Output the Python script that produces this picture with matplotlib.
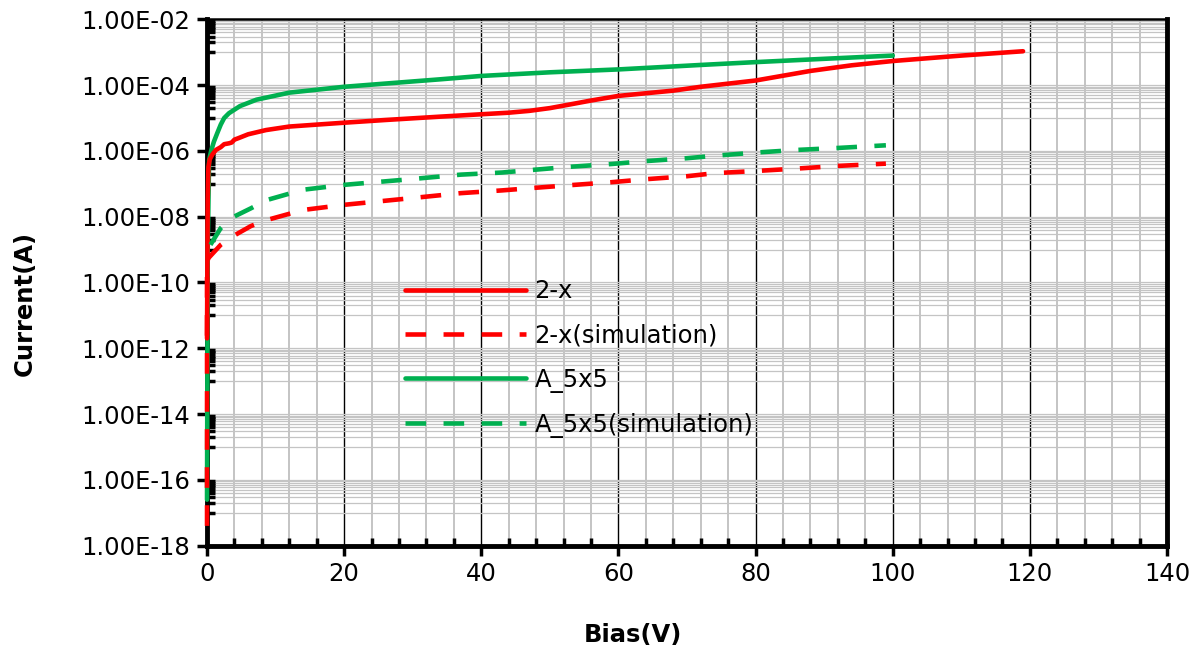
import numpy as np
import matplotlib
matplotlib.use("Agg")
import matplotlib.pyplot as plt
from matplotlib.ticker import FixedLocator, FuncFormatter, MultipleLocator


OUTPUT_FILE = "out.png"

# measured I-V curves
BIAS_2X = [0, 0.05, 0.1, 0.2, 0.4, 0.8, 1.3, 2, 2.5, 3.2, 3.6, 4.0, 4.6, 6, 8.6,
           12, 16, 20, 26, 34, 40, 44, 47, 50, 53, 56, 60, 68, 72, 80, 88, 94,
           100, 110, 119]
CURRENT_2X = [2.0e-12, 3.2e-10, 3.2e-8, 3.2e-7, 5.6e-7, 7.9e-7, 1.07e-6, 1.3e-6,
              1.6e-6, 1.7e-6, 1.8e-6, 2.2e-6, 2.45e-6, 3.2e-6, 4.3e-6, 5.5e-6,
              6.3e-6, 7.2e-6, 8.7e-6, 1.1e-5, 1.3e-5, 1.45e-5, 1.65e-5, 2.0e-5,
              2.6e-5, 3.4e-5, 4.7e-5, 6.8e-5, 8.9e-5, 1.38e-4, 2.7e-4, 4.0e-4,
              5.4e-4, 7.9e-4, 1.07e-3]

BIAS_A5 = [0, 0.1, 0.3, 0.6, 1.0, 1.5, 2.0, 2.5, 3.2, 4.8, 7.2, 12, 20, 34, 40,
           50, 60, 72, 80, 90, 100]
CURRENT_A5 = [2.5e-17, 1.0e-9, 5.2e-7, 1.0e-6, 1.9e-6, 3.5e-6, 6.3e-6, 1.0e-5,
              1.4e-5, 2.3e-5, 3.6e-5, 5.9e-5, 8.9e-5, 1.5e-4, 1.9e-4, 2.45e-4,
              3.0e-4, 4.1e-4, 5.0e-4, 6.3e-4, 7.9e-4]

# simulated I-V curves
BIAS_2X_SIM = [0, 0, 0.2, 2, 3.7, 6.4, 8.7, 14, 20, 30, 37, 43, 48, 53, 59, 64,
               70, 74, 80, 86, 92, 99]
CURRENT_2X_SIM = [4.0e-18, 4.0e-10, 5.5e-10, 1.4e-9, 2.5e-9, 5.2e-9, 7.9e-9,
                  1.6e-8, 2.3e-8, 3.7e-8, 5.2e-8, 6.3e-8, 7.6e-8, 9.1e-8,
                  1.12e-7, 1.38e-7, 1.7e-7, 2.1e-7, 2.45e-7, 2.9e-7, 3.5e-7,
                  4.1e-7]

BIAS_A5_SIM = [0.5, 2, 3.7, 6.4, 8.7, 14, 20, 30, 37, 43, 48, 53, 59, 64, 70,
               74, 80, 86, 92, 99]
CURRENT_A5_SIM = [1.4e-9, 4.5e-9, 9.5e-9, 1.8e-8, 3.2e-8, 6.6e-8, 9.3e-8,
                  1.4e-7, 1.9e-7, 2.2e-7, 2.7e-7, 3.3e-7, 4.0e-7, 4.9e-7,
                  6.0e-7, 7.1e-7, 8.9e-7, 1.07e-6, 1.23e-6, 1.48e-6]

RED = "#FF0000"
GREEN = "#00B050"
DASH = (0, (4.5, 3.8))
FONT_SIZE = 17.5


def make_plot():
    plt.rcParams["font.family"] = "DejaVu Sans"

    fig = plt.figure(figsize=(11.96, 6.46), dpi=100)
    ax = fig.add_axes([0.1731, 0.1553, 0.8027, 0.8148])

    line_kw = dict(linewidth=3.3, clip_on=False, solid_capstyle="round")
    h_a5, = ax.plot(BIAS_A5, CURRENT_A5, color=GREEN, zorder=3, **line_kw)
    h_2x, = ax.plot(BIAS_2X, CURRENT_2X, color=RED, zorder=4, **line_kw)
    h_2x_sim, = ax.plot(BIAS_2X_SIM, CURRENT_2X_SIM, color=RED, linestyle=DASH,
                        zorder=5, **line_kw)
    h_a5_sim, = ax.plot(BIAS_A5_SIM, CURRENT_A5_SIM, color=GREEN, linestyle=DASH,
                        zorder=6, **line_kw)

    ax.set_yscale("log")
    ax.set_xlim(0, 140)
    ax.set_ylim(1e-18, 1e-2)

    # major ticks every two decades, minor ticks split each two-decade band
    majors = [10.0 ** e for e in range(-18, -1, 2)]
    minors = [m * 10.0 ** e for e in range(-18, -3, 2) for m in range(10, 100, 10)]
    ax.yaxis.set_major_locator(FixedLocator(majors))
    ax.yaxis.set_minor_locator(FixedLocator(minors))
    ax.yaxis.set_major_formatter(FuncFormatter(lambda v, _: f"{v:.2E}"))
    ax.yaxis.set_minor_formatter(FuncFormatter(lambda v, _: ""))

    ax.xaxis.set_major_locator(MultipleLocator(20))
    ax.xaxis.set_minor_locator(MultipleLocator(4))

    ax.set_axisbelow(True)
    ax.yaxis.grid(True, which="both", color="#c4c4c4", linewidth=0.9)
    ax.xaxis.grid(True, which="minor", color="#c4c4c4", linewidth=1.4)
    ax.xaxis.grid(True, which="major", color="black", linewidth=1.0)

    ax.tick_params(which="major", direction="out", length=7, width=2.5,
                   labelsize=FONT_SIZE, pad=5)
    ax.tick_params(which="minor", direction="in", length=5.5, width=2.5)

    for side in ["left", "bottom", "right"]:
        ax.spines[side].set_linewidth(3.5)
    ax.spines["top"].set_linewidth(1.8)

    ax.set_xlabel("Bias(V)", fontsize=FONT_SIZE, fontweight="bold")
    ax.set_ylabel("Current(A)", fontsize=FONT_SIZE, fontweight="bold")
    ax.xaxis.set_label_coords(0.4437, -0.147)
    ax.yaxis.set_label_coords(-0.177, 0.461)

    ax.legend([h_2x, h_2x_sim, h_a5, h_a5_sim],
              ["2-x", "2-x(simulation)", "A_5x5", "A_5x5(simulation)"],
              loc="upper left", bbox_to_anchor=(0.206, 0.506), frameon=False,
              fontsize=FONT_SIZE, handlelength=5.0, handletextpad=0.33,
              labelspacing=0.83, borderpad=0, borderaxespad=0)

    fig.savefig(OUTPUT_FILE, dpi=100)
    plt.close(fig)


if __name__ == "__main__":
    make_plot()
